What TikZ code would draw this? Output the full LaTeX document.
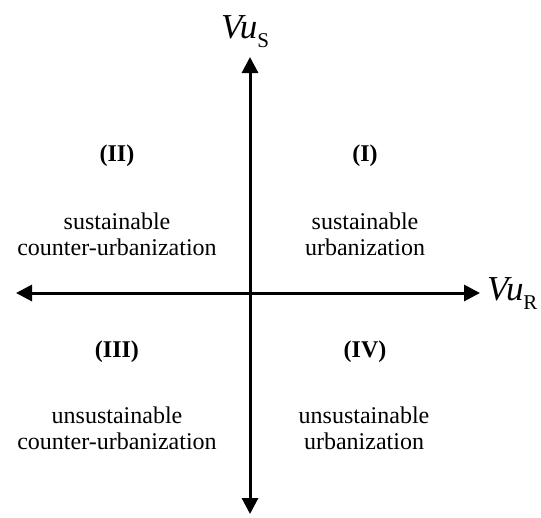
\documentclass[tikz,border=0pt]{standalone}
\usepackage{fontspec}
\setmainfont{Liberation Serif}
\usetikzlibrary{arrows.meta}
\newcommand{\axsub}[1]{\raisebox{-9pt}{\normalfont\fontsize{21}{23}\selectfont #1}}
\begin{document}
\begin{tikzpicture}[x=1pt,y=-1pt,
  axis/.style={line width=3pt,{Triangle[length=16pt,width=16pt]}-{Triangle[length=16pt,width=16pt]}},
  quad/.style={font=\fontsize{24}{26}\selectfont,align=center,inner sep=0pt},
  qnum/.style={font=\fontsize{24}{26}\selectfont\bfseries,inner sep=0pt},
  axlab/.style={font=\fontsize{35}{38}\selectfont\itshape,inner sep=0pt}]
\useasboundingbox (0,0) rectangle (541,517);
\coordinate (xl) at (16,293);
\coordinate (xr) at (480,293);
\coordinate (yt) at (250,57);
\coordinate (yb) at (250,514);
\draw[axis] (xl) -- (xr);
\draw[axis] (yb) -- (yt);
\node[axlab,anchor=base west] (vus) at (221,38) {Vu\axsub{S}};
\node[axlab,anchor=base west] (vur) at (487,300) {Vu\axsub{R}};
\node[qnum] (n1) at (365,156) {(I)};
\node[qnum] (n2) at (117,156) {(II)};
\node[qnum] (n3) at (117,352) {(III)};
\node[qnum] (n4) at (365,352) {(IV)};
\node[quad] (t1) at (365,234) {sustainable\\urbanization};
\node[quad] (t2) at (117,234) {sustainable\\counter-urbanization};
\node[quad] (t3) at (117,428) {unsustainable\\counter-urbanization};
\node[quad] (t4) at (364,428) {unsustainable\\urbanization};
\end{tikzpicture}
\end{document}
